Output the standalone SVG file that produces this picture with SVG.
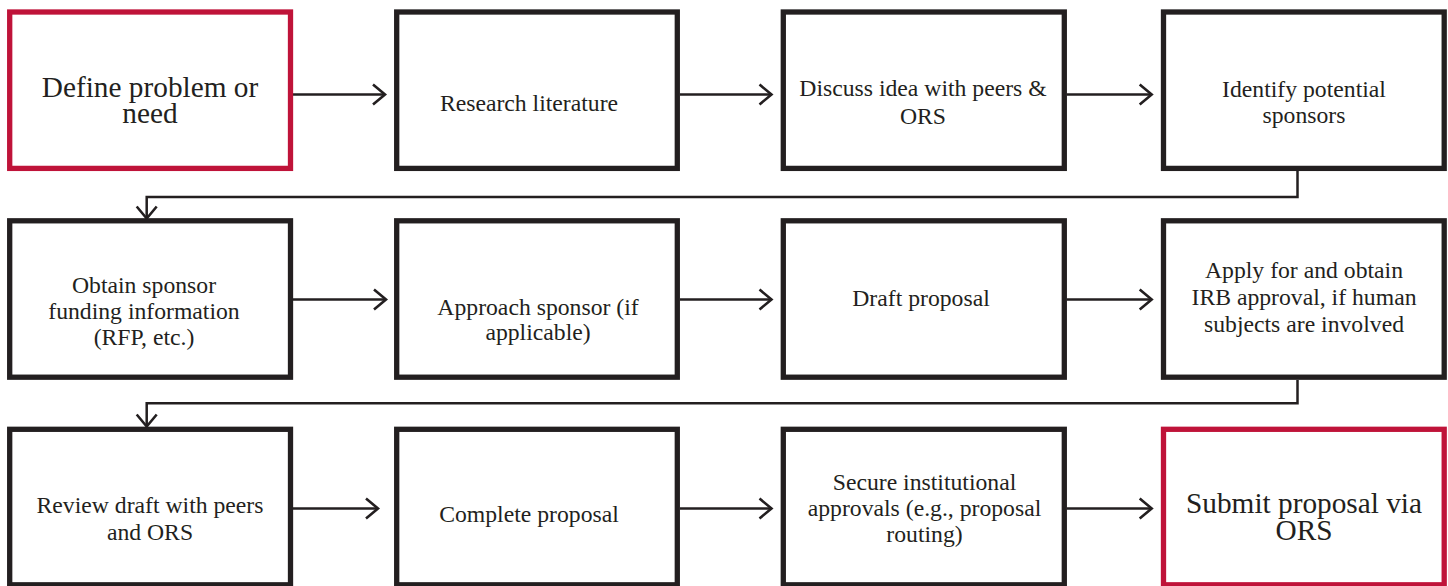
<svg xmlns="http://www.w3.org/2000/svg" width="1448" height="586" viewBox="0 0 1448 586">
<defs>
<style>
.box{fill:#ffffff;stroke:#231f20;stroke-width:5.3}
.red{stroke:#bf1339}
.t{font-family:"Liberation Serif","Times New Roman",serif;font-size:23.7px;fill:#231f20;text-anchor:middle}
.big{font-size:29.3px}
.c{fill:none;stroke:#231f20;stroke-width:2.5}
</style>
<marker id="ah" markerUnits="userSpaceOnUse" viewBox="-16 -14 20 28" markerWidth="20" markerHeight="28" refX="0" refY="0" orient="auto">
<path d="M-12,-10 L0,0 L-12,10" fill="none" stroke="#231f20" stroke-width="2.6"/>
</marker>
</defs>
<rect width="1448" height="586" fill="#ffffff"/>
<g id="connectors">
<path class="c" d="M293,94.5 H385" marker-end="url(#ah)"/>
<path class="c" d="M680,94.5 H771.5" marker-end="url(#ah)"/>
<path class="c" d="M1066.7,94.5 H1151.7" marker-end="url(#ah)"/>
<path class="c" d="M1297.5,171 V197 H146.7 V218.5" marker-end="url(#ah)"/>
<path class="c" d="M293,299.5 H386" marker-end="url(#ah)"/>
<path class="c" d="M680,299.5 H771.5" marker-end="url(#ah)"/>
<path class="c" d="M1066.7,299.5 H1151.7" marker-end="url(#ah)"/>
<path class="c" d="M1297.5,380 V403.3 H146.7 V426.5" marker-end="url(#ah)"/>
<path class="c" d="M293,508.5 H378" marker-end="url(#ah)"/>
<path class="c" d="M680,508.5 H771.5" marker-end="url(#ah)"/>
<path class="c" d="M1066.7,508.5 H1151.7" marker-end="url(#ah)"/>
</g>
<g id="n1"><rect class="box red" x="9.7" y="12" width="280.8" height="156.4"/>
<text class="t big" x="150" y="96.7">Define problem or</text><text class="t big" x="150" y="122.7">need</text></g>
<g id="n2"><rect class="box" x="396.7" y="12" width="280.6" height="156.4"/>
<text class="t" x="529" y="111">Research literature</text></g>
<g id="n3"><rect class="box" x="783.3" y="12" width="281" height="156.4"/>
<text class="t" x="923" y="96">Discuss idea with peers &amp;</text><text class="t" x="923" y="124">ORS</text></g>
<g id="n4"><rect class="box" x="1163.5" y="12" width="280.7" height="156.4"/>
<text class="t" x="1304" y="96.7">Identify potential</text><text class="t" x="1304" y="122.7">sponsors</text></g>
<g id="n5"><rect class="box" x="9.7" y="220.8" width="280.8" height="156.4"/>
<text class="t" x="144" y="293">Obtain sponsor</text><text class="t" x="144" y="319">funding information</text><text class="t" x="144" y="345">(RFP, etc.)</text></g>
<g id="n6"><rect class="box" x="396.7" y="220.8" width="280.6" height="156.4"/>
<text class="t" x="538" y="315">Approach sponsor (if</text><text class="t" x="538" y="340">applicable)</text></g>
<g id="n7"><rect class="box" x="783.3" y="220.8" width="281" height="156.4"/>
<text class="t" x="921" y="306">Draft proposal</text></g>
<g id="n8"><rect class="box" x="1163.5" y="220.8" width="280.7" height="156.4"/>
<text class="t" x="1304" y="278.3">Apply for and obtain</text><text class="t" x="1304" y="305">IRB approval, if human</text><text class="t" x="1304" y="331.7">subjects are involved</text></g>
<g id="n9"><rect class="box" x="9.7" y="429.3" width="280.8" height="155.5"/>
<text class="t" x="150" y="512.7">Review draft with peers</text><text class="t" x="150" y="540">and ORS</text></g>
<g id="n10"><rect class="box" x="396.7" y="429.3" width="280.6" height="155.5"/>
<text class="t" x="529" y="522">Complete proposal</text></g>
<g id="n11"><rect class="box" x="783.3" y="429.3" width="281" height="155.5"/>
<text class="t" x="924.5" y="489.5">Secure institutional</text><text class="t" x="924.5" y="515.7">approvals (e.g., proposal</text><text class="t" x="924.5" y="541.7">routing)</text></g>
<g id="n12"><rect class="box red" x="1163.5" y="429.3" width="280.7" height="155.5"/>
<text class="t big" x="1304" y="513.3">Submit proposal via</text><text class="t big" x="1304" y="540">ORS</text></g>
</svg>
